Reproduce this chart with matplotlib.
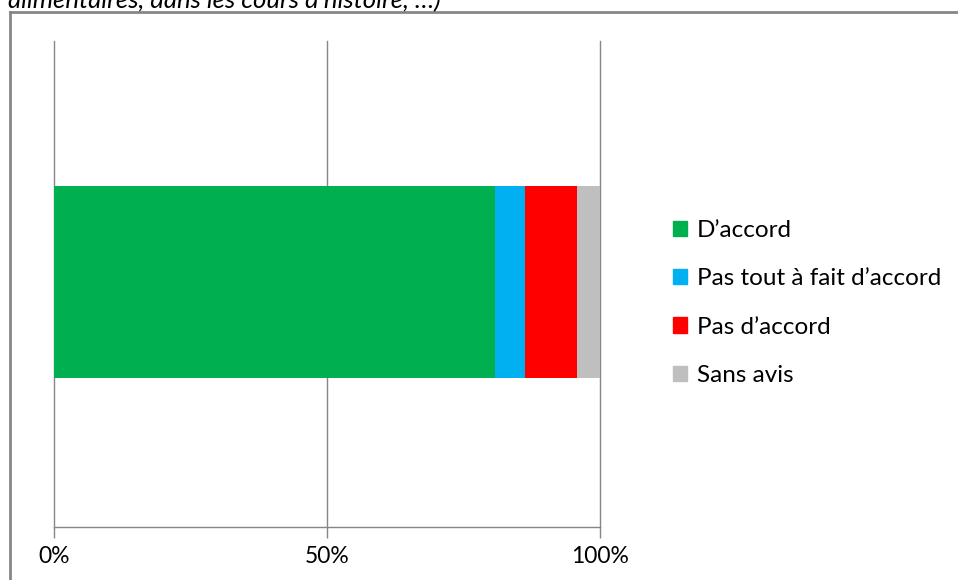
import matplotlib
matplotlib.use('Agg')
import matplotlib.pyplot as plt
from matplotlib.lines import Line2D
from matplotlib.patches import Patch

plt.rcParams['font.family'] = ['Lato', 'DejaVu Sans']

categories = ['']
labels = ["D\u2019accord", "Pas tout \u00e0 fait d\u2019accord", "Pas d\u2019accord", "Sans avis"]
values = [80.8, 5.5, 9.5, 4.2]
colors = ['#00b050', '#00b0f0', '#ff0000', '#bfbfbf']
tick_vals = [0, 50, 100]
tick_labels = ['0%', '50%', '100%']

W, H = 958, 580
fig = plt.figure(figsize=(W / 100, H / 100), dpi=100)
ax = fig.add_axes([54 / W, (H - 527) / H, (600 - 54) / W, (527 - 41) / H])

left = 0
for lab, v, c in zip(labels, values, colors):
    ax.barh(categories, [v], left=left, height=0.395, color=c, label=lab, zorder=3)
    left += v

ax.set_xlim(0, 100)
ax.set_ylim(-0.505, 0.495)
ax.set_xticks(tick_vals)
ax.set_xticklabels(tick_labels, fontsize=16.5)
ax.set_yticks([])
ax.tick_params(axis='x', length=8, width=1, color='#868686', pad=6)
ax.grid(axis='x', color='#868686', linewidth=1, zorder=0)
for gl in ax.get_xgridlines():
    gl.set_clip_on(False)
for s in ['top', 'left', 'right']:
    ax.spines[s].set_visible(False)
ax.spines['bottom'].set_color('#868686')
ax.spines['bottom'].set_linewidth(1)

handles = [Patch(color=c, label=l) for l, c in zip(labels, colors)]
fig.legend(handles=handles, loc='center left', bbox_to_anchor=(661 / W, (H - 303) / H),
           frameon=False, fontsize=17.5, handlelength=0.58, handleheight=0.58,
           handletextpad=0.4, labelspacing=1.12, borderpad=0)

# outer chart frame (left and top edges visible)
fig.add_artist(Line2D([10 / W, 10 / W], [0, (H - 12) / H], color='#868686', linewidth=2,
                      transform=fig.transFigure))
fig.add_artist(Line2D([10 / W, 1], [(H - 12) / H, (H - 12) / H], color='#868686', linewidth=2,
                      transform=fig.transFigure))

fig.text(8 / W, (H - 8) / H, "alimentaires, dans les cours d\u2019histoire, \u2026)",
         fontsize=18.5, style='italic', ha='left', va='baseline')

fig.savefig('out.png', dpi=100)
